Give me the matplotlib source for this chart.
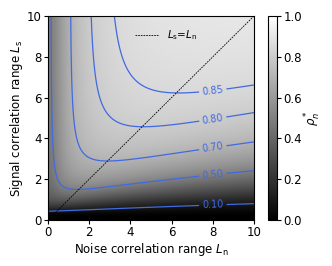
import numpy as np
import matplotlib
matplotlib.use('Agg')
from matplotlib import pyplot as plt

# correlation ranges shown on the axes
ln_range = (0.0, 10.0)
ls_range = (0.0, 10.0)
ticks = [0, 2, 4, 6, 8, 10]
cbar_ticks = [0.0, 0.2, 0.4, 0.6, 0.8, 1.0]

# contour levels drawn in the map
levels = [0.10, 0.50, 0.70, 0.80, 0.85]
label_ln = 8.0  # where the contour labels sit along L_n

a_sig = 0.76    # signal term  / Ls^2
b_cross = 0.478  # cross term  Ln / Ls^2
g_short = 0.13  # short signal range term / Ls^4
c_noise = 0.50  # noise term / sqrt(Ln^2 + d^2)
d_noise = 0.48

line_color = '#4169E1'


def rho_star(Ln, Ls):
    Ls = np.maximum(Ls, 1e-3)
    err = (a_sig + b_cross * Ln) / Ls**2 + g_short / Ls**4 \
        + c_noise / np.sqrt(Ln**2 + d_noise**2)
    return 1.0 / (1.0 + err)


ln = np.linspace(ln_range[0], ln_range[1], 401)
ls = np.linspace(ls_range[0], ls_range[1], 401)
LN, LS = np.meshgrid(ln, ls)
RHO = rho_star(LN, LS)

fig = plt.figure(figsize=(3.32, 2.66), dpi=100)
ax = fig.add_axes([48 / 332, 46 / 266, 206 / 332, 204 / 266])
cax = fig.add_axes([268 / 332, 46 / 266, 9 / 332, 204 / 266])

im = ax.imshow(RHO, origin='lower', extent=(*ln_range, *ls_range), cmap='gray',
               vmin=0, vmax=1, aspect='auto', interpolation='bilinear')

cs = ax.contour(LN, LS, RHO, levels=levels, colors=line_color, linewidths=0.9)
# put the labels near L_n = 8 on every line
col = np.argmin(np.abs(ln - label_ln))
label_pos = [(label_ln, np.interp(lv, RHO[:, col], ls)) for lv in levels]
ax.clabel(cs, fmt='%.2f', fontsize=7, manual=label_pos, inline=True, inline_spacing=3)

ax.plot(ln_range, ls_range, color='black', linestyle='--', linewidth=0.6,
        dashes=(2, 1.2), label=r'$L_\mathrm{s}$=$L_\mathrm{n}$')
ax.legend(loc='upper center', bbox_to_anchor=(0.575, 0.985), frameon=False,
          fontsize=7.5, handlelength=2.2, handletextpad=0.9)

ax.set_xlim(*ln_range)
ax.set_ylim(*ls_range)
ax.set_xticks(ticks)
ax.set_yticks(ticks)
ax.tick_params(labelsize=8.5, length=3, pad=1.5)
ax.set_xlabel(r'Noise correlation range $L_\mathrm{n}$', fontsize=8.5, labelpad=1.5)
ax.set_ylabel(r'Signal correlation range $L_\mathrm{s}$', fontsize=8.5, labelpad=1.5)

cb = fig.colorbar(im, cax=cax, ticks=cbar_ticks)
cb.ax.tick_params(labelsize=8.5, length=3, pad=1.5)
cb.set_label(r'$\rho_n^*$', fontsize=8.5, labelpad=1)

plt.savefig('out.png', dpi=100)
